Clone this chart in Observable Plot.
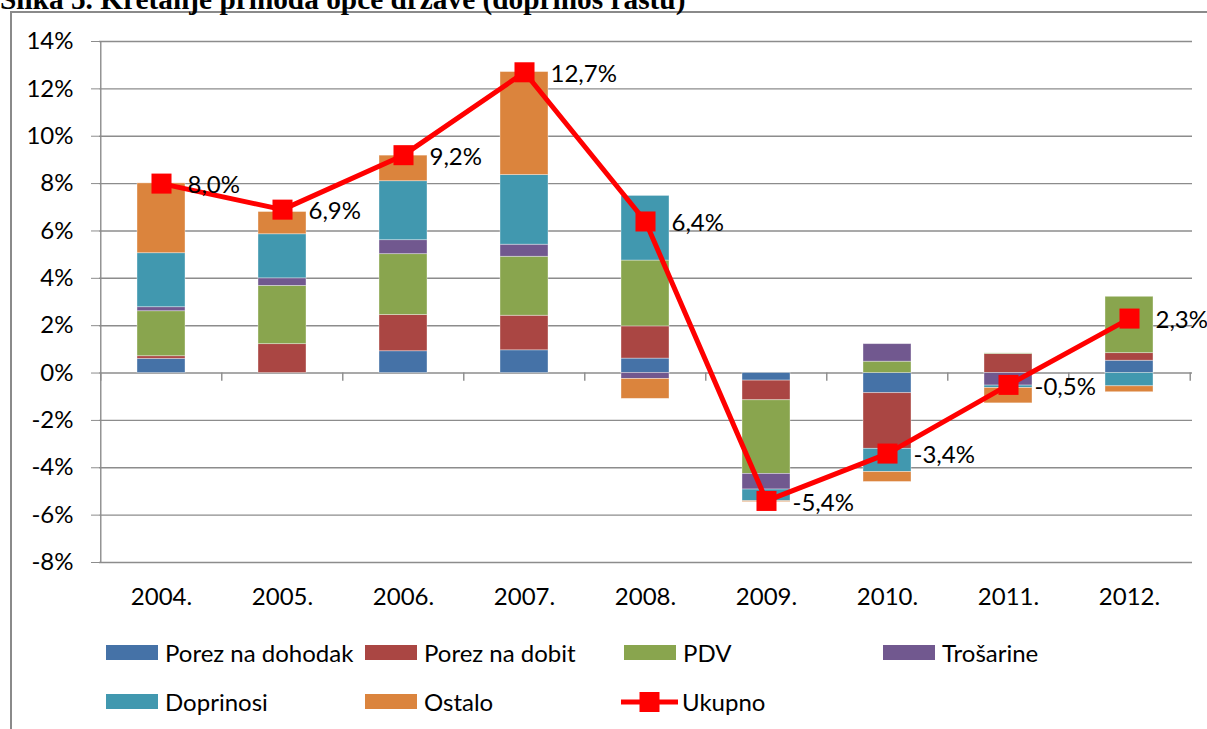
<!DOCTYPE html>
<html>
<head>
<meta charset="utf-8">
<script src="https://cdn.jsdelivr.net/npm/d3@7"></script>
<script src="https://cdn.jsdelivr.net/npm/@observablehq/plot@0.6"></script>
<style>
  body { margin: 0; background: #fff; width: 1207px; height: 729px; overflow: hidden; position: relative; font-family: Lato, sans-serif; color: #000; }
  #frame { position: absolute; left: 10px; top: 11px; width: 1400px; height: 900px; border: 2px solid #8a8a8a; box-sizing: border-box; }
  #title { position: absolute; left: 0; top: -15px; font: bold 29.33px/29.33px "Liberation Serif", "Times New Roman", serif; white-space: nowrap; }
  #chart { position: absolute; left: 0; top: 0; }
  #legend { position: absolute; left: 106px; top: 637px; display: grid; grid-template-columns: repeat(4, 259px); grid-auto-rows: 49px; }
  .item { display: flex; align-items: center; height: 31px; font-size: 24px; white-space: nowrap; align-self: start; }
  .sw { width: 52px; height: 15px; margin-right: 7px; flex: none; }
</style>
</head>
<body>
<div id="frame"></div>
<div id="title">Slika 5. Kretanje prihoda opće države (doprinos rastu)</div>
<div id="chart"></div>
<div id="legend"></div>
<script>
// ---- data (percentage points) ----
const years = ["2004.", "2005.", "2006.", "2007.", "2008.", "2009.", "2010.", "2011.", "2012."];
const seriesNames = ["Porez na dohodak", "Porez na dobit", "PDV", "Trošarine", "Doprinosi", "Ostalo"];
const seriesColors = ["#4572A7", "#AA4643", "#89A54E", "#71588F", "#4198AF", "#DB843D"];
const porezNaDohodak = [0.60, 0.00, 0.92, 0.96, 0.61, -0.32, -0.85, 0.00, 0.52];
const porezNaDobit   = [0.11, 1.22, 1.53, 1.46, 1.36, -0.83, -2.35, 0.80, 0.32];
const pdv            = [1.90, 2.46, 2.57, 2.49, 2.78, -3.11, 0.48, 0.03, 2.38];
const trosarine      = [0.17, 0.32, 0.59, 0.51, -0.25, -0.66, 0.74, -0.53, 0.00];
const doprinosi      = [2.28, 1.86, 2.49, 2.94, 2.73, -0.49, -0.98, -0.10, -0.56];
const ostalo         = [2.95, 0.94, 1.08, 4.35, -0.84, -0.04, -0.42, -0.65, -0.25];
const ukupno         = [8.0, 6.9, 9.2, 12.7, 6.4, -5.4, -3.4, -0.5, 2.3];
const yTicks = [-8, -6, -4, -2, 0, 2, 4, 6, 8, 10, 12, 14];
const totalName = "Ukupno";

// ---- tables ----
const seriesValues = [porezNaDohodak, porezNaDobit, pdv, trosarine, doprinosi, ostalo];
const rows = [];
years.forEach((yr, i) => seriesValues.forEach((vals, s) => rows.push({year: yr, series: seriesNames[s], value: vals[i]})));
const totals = years.map((yr, i) => ({year: yr, value: ukupno[i]}));

const W = 1207, H = 620, ML = 99, MR = 15, MT = 41, MB = 58;
const step = (W - ML - MR) / years.length;
const grid = "#8c8c8c";
const fmt = v => v.toFixed(1).replace(".", ",") + "%";

const chart = Plot.plot({
  width: W, height: H,
  marginLeft: ML, marginRight: MR, marginTop: MT, marginBottom: MB,
  style: {fontFamily: "Lato, sans-serif", fontSize: "24px", color: "#000", background: "transparent", overflow: "visible"},
  x: {type: "band", domain: years, paddingInner: 0.6, paddingOuter: 0.3},
  y: {domain: [-8, 14]},
  color: {domain: seriesNames, range: seriesColors},
  marks: [
    Plot.ruleY(yTicks, {stroke: grid, strokeWidth: 1.4}),
    Plot.ruleX([years[0]], {y1: -8, y2: 14, dx: -step / 2, stroke: grid, strokeWidth: 1.4}),
    Plot.ruleX(years, {y1: 0, y2: -0.35, dx: -step / 2, stroke: grid, strokeWidth: 1.4}),
    Plot.ruleX([years[years.length - 1]], {y1: 0, y2: -0.35, dx: step / 2, stroke: grid, strokeWidth: 1.4}),
    Plot.axisY({ticks: yTicks, tickSize: 8, tickPadding: 18, tickFormat: d => `${d}%`, label: null, stroke: grid, fill: "#000", fontSize: 24}),
    Plot.axisX({tickSize: 0, tickPadding: 25, label: null, fill: "#000", fontSize: 24}),
    Plot.barY(rows, Plot.stackY({x: "year", y: "value", fill: "series", stroke: "#fff", strokeOpacity: 0.45, strokeWidth: 0.8})),
    Plot.lineY(totals, {x: "year", y: "value", stroke: "#FF0000", strokeWidth: 5}),
    Plot.dot(totals, {x: "year", y: "value", symbol: "square", r: 11.3, fill: "#FF0000"}),
    Plot.text(totals, {x: "year", y: "value", text: d => fmt(d.value), dx: 26, dy: 2, textAnchor: "start", fontSize: 24, fill: "#000"})
  ]
});
document.getElementById("chart").appendChild(chart);

// ---- legend ----
const legend = document.getElementById("legend");
const order = [0, 1, 2, 3, 4, 5];
order.forEach(i => {
  const it = document.createElement("div");
  it.className = "item";
  it.innerHTML = `<span class="sw" style="background:${seriesColors[i]}"></span><span>${seriesNames[i]}</span>`;
  legend.appendChild(it);
});
const tot = document.createElement("div");
tot.className = "item";
tot.innerHTML = `<svg width="57" height="20" style="margin-left:-3px;margin-right:4px;flex:none"><line x1="0" x2="57" y1="10" y2="10" stroke="#FF0000" stroke-width="5"/><rect x="18.5" y="0" width="20" height="20" fill="#FF0000"/></svg><span>${totalName}</span>`;
legend.appendChild(tot);
</script>
</body>
</html>
